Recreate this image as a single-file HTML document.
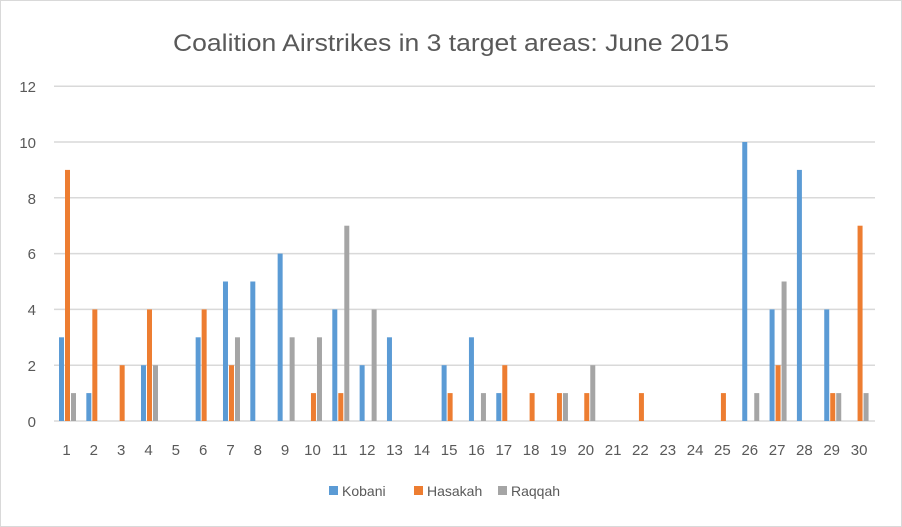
<!DOCTYPE html>
<html><head><meta charset="utf-8"><style>
html,body{margin:0;padding:0;background:#fff}
svg{display:block;font-family:"Liberation Sans",sans-serif}
</style></head><body>
<svg id="s" width="902" height="527" xmlns="http://www.w3.org/2000/svg">
<rect x="0.5" y="0.5" width="901" height="526" fill="#fff" stroke="#d9d9d9"/>
<text x="451" y="51" text-anchor="middle" font-size="24" textLength="556" lengthAdjust="spacingAndGlyphs" fill="#595959">Coalition Airstrikes in 3 target areas: June 2015</text>
<g stroke="#d9d9d9" stroke-width="1.5">
<line x1="54" x2="875" y1="86.2" y2="86.2"/>
<line x1="54" x2="875" y1="142" y2="142"/>
<line x1="54" x2="875" y1="197.8" y2="197.8"/>
<line x1="54" x2="875" y1="253.6" y2="253.6"/>
<line x1="54" x2="875" y1="309.4" y2="309.4"/>
<line x1="54" x2="875" y1="365.2" y2="365.2"/>
<line x1="54" x2="875" y1="421" y2="421"/>
</g>
<g font-size="15" fill="#595959" text-anchor="end">
<text x="36" y="92">12</text><text x="36" y="148">10</text><text x="36" y="204">8</text>
<text x="36" y="259">6</text><text x="36" y="315">4</text><text x="36" y="371">2</text><text x="36" y="427">0</text>
</g>
<g id="bars"></g>
<g font-size="15" fill="#595959" text-anchor="middle" id="xl">
<text x="66.5" y="455">1</text><text x="93.8" y="455">2</text><text x="121.2" y="455">3</text><text x="148.5" y="455">4</text><text x="175.8" y="455">5</text><text x="203.2" y="455">6</text><text x="230.5" y="455">7</text><text x="257.8" y="455">8</text><text x="285.1" y="455">9</text><text x="312.5" y="455">10</text><text x="339.8" y="455">11</text><text x="367.1" y="455">12</text><text x="394.5" y="455">13</text><text x="421.8" y="455">14</text><text x="449.1" y="455">15</text><text x="476.5" y="455">16</text><text x="503.8" y="455">17</text><text x="531.1" y="455">18</text><text x="558.4" y="455">19</text><text x="585.8" y="455">20</text><text x="613.1" y="455">21</text><text x="640.4" y="455">22</text><text x="667.8" y="455">23</text><text x="695.1" y="455">24</text><text x="722.4" y="455">25</text><text x="749.8" y="455">26</text><text x="777.1" y="455">27</text><text x="804.4" y="455">28</text><text x="831.7" y="455">29</text><text x="859.1" y="455">30</text>
</g>
<g font-size="14" fill="#595959">
<rect x="329" y="486" width="9" height="9" fill="#5b9bd5"/><text x="342" y="496">Kobani</text>
<rect x="414" y="486" width="9" height="9" fill="#ed7d31"/><text x="427" y="496">Hasakah</text>
<rect x="498" y="486" width="9" height="9" fill="#a5a5a5"/><text x="511" y="496">Raqqah</text>
</g>
</svg>
<script>
var d=[[3,9,1],[1,4,0],[0,2,0],[2,4,2],[0,0,0],[3,4,0],[5,2,3],[5,0,0],[6,0,3],[0,1,3],[4,1,7],[2,0,4],[3,0,0],[0,0,0],[2,1,0],[3,0,1],[1,2,0],[0,1,0],[0,1,1],[0,1,2],[0,0,0],[0,1,0],[0,0,0],[0,0,0],[0,1,0],[10,0,1],[4,2,5],[9,0,0],[4,1,1],[0,7,1]];
var c=["#5b9bd5","#ed7d31","#a5a5a5"],g=document.getElementById("bars"),h="";
for(var i=0;i<30;i++)for(var j=0;j<3;j++){var v=d[i][j];if(!v)continue;var x=59+27.33*i+6*j,y=421-27.9*v;
h+='<rect x="'+x.toFixed(2)+'" y="'+y.toFixed(2)+'" width="5" height="'+(27.9*v).toFixed(2)+'" fill="'+c[j]+'"/>';}
g.innerHTML=h;
</script>
</body></html>
